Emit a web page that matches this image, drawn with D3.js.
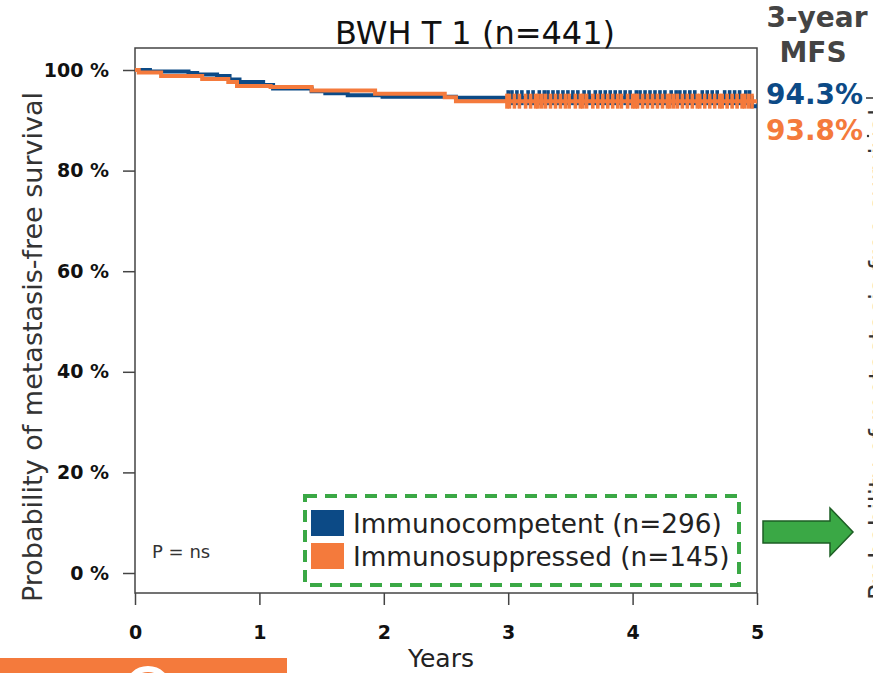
<!DOCTYPE html>
<html><head><meta charset="utf-8">
<script src="https://cdn.jsdelivr.net/npm/d3@7"></script>
<style>html,body{margin:0;padding:0;background:#fff;overflow:hidden}svg{display:block}</style>
</head><body>
<svg id="c" width="873" height="673"></svg>
<script>
// ---- data ----
const seriesNames = ["Immunocompetent (n=296)", "Immunosuppressed (n=145)"];
const mfs3 = ["94.3%", "93.8%"];
// step times (years) and survival after each step
const blueTimes = [0, 0.12, 0.43, 0.50, 0.66, 0.76, 0.84, 1.03, 1.11, 1.42, 1.53, 1.71, 1.99, 2.58, 4.96];
const blueSurv  = [1.0, 0.997, 0.994, 0.991, 0.988, 0.981, 0.976, 0.970, 0.963, 0.958, 0.954, 0.950, 0.947, 0.945, 0.928];
const orangeTimes = [0, 0.03, 0.21, 0.54, 0.75, 0.82, 1.09, 1.42, 1.93, 2.49, 2.58];
const orangeSurv  = [1.0, 0.995, 0.988, 0.982, 0.976, 0.968, 0.966, 0.959, 0.953, 0.946, 0.938];
const blueCensor = [3.00, 3.03, 3.07, 3.11, 3.16, 3.20, 3.25, 3.29, 3.32, 3.36, 3.40, 3.44, 3.48, 3.52, 3.56, 3.61, 3.65, 3.70, 3.74, 3.78, 3.82, 3.86, 3.90, 3.94, 3.98, 4.03, 4.06, 4.10, 4.14, 4.18, 4.22, 4.26, 4.31, 4.35, 4.38, 4.42, 4.46, 4.50, 4.56, 4.60, 4.64, 4.68, 4.74, 4.78, 4.82, 4.86, 4.91, 4.94];
const orangeCensor = [2.99, 3.01, 3.05, 3.09, 3.14, 3.18, 3.22, 3.24, 3.27, 3.30, 3.34, 3.38, 3.42, 3.46, 3.49, 3.54, 3.58, 3.60, 3.63, 3.68, 3.72, 3.76, 3.80, 3.84, 3.88, 3.91, 3.96, 4.00, 4.02, 4.04, 4.08, 4.12, 4.16, 4.20, 4.24, 4.28, 4.30, 4.33, 4.36, 4.40, 4.44, 4.48, 4.52, 4.54, 4.58, 4.62, 4.66, 4.70, 4.72, 4.76, 4.80, 4.84, 4.88, 4.90, 4.93, 4.96];
const xTicks = [0, 1, 2, 3, 4, 5];
const yTicks = [0, 0.2, 0.4, 0.6, 0.8, 1.0];

const BLUE = "#0c4a86", ORANGE = "#f47a3c", GREEN = "#3aa845";
const svg = d3.select("#c");
const x = d3.scaleLinear().domain([0, 5]).range([135, 757]);
const y = d3.scaleLinear().domain([0, 1]).range([573, 70]);
const F = "DejaVu Sans, sans-serif";

// frame
svg.append("rect").attr("x", 135).attr("y", 48).attr("width", 622).attr("height", 545)
  .attr("fill", "none").attr("stroke", "#444").attr("stroke-width", 1.5);

// axes
const ya = svg.append("g").attr("transform", "translate(135,0)")
  .call(d3.axisLeft(y).tickValues(yTicks).tickFormat(d => Math.round(d * 100) + " %").tickSize(12).tickPadding(14));
ya.select(".domain").remove();
ya.selectAll("line").attr("stroke", "#444").attr("stroke-width", 1.5);
ya.selectAll("text").attr("font-family", F).attr("font-weight", "bold").attr("font-size", 19).attr("fill", "#111");

const xa = svg.append("g").attr("transform", "translate(0,593)")
  .call(d3.axisBottom(x).tickValues(xTicks).tickFormat(d3.format("d")).tickSize(12).tickPadding(21));
xa.select(".domain").remove();
xa.selectAll("line").attr("stroke", "#444").attr("stroke-width", 1.5);
xa.selectAll("text").attr("font-family", F).attr("font-weight", "bold").attr("font-size", 19).attr("fill", "#111");

// curves
function survAt(times, surv, t) {
  let s = surv[0];
  for (let i = 0; i < times.length; i++) if (times[i] <= t) s = surv[i];
  return s;
}
const line = d3.line().x(d => x(d[0])).y(d => y(d[1])).curve(d3.curveStepAfter);
function drawSeries(times, surv, censor, color) {
  const pts = times.map((t, i) => [t, surv[i]]);
  pts.push([5, surv[surv.length - 1]]);
  svg.append("path").datum(pts).attr("d", line).attr("fill", "none")
    .attr("stroke", color).attr("stroke-width", 4);
  svg.append("g").selectAll("line").data(censor).join("line")
    .attr("x1", d => x(d)).attr("x2", d => x(d))
    .attr("y1", d => y(survAt(times, surv, d)) - 7.5)
    .attr("y2", d => y(survAt(times, surv, d)) + 7.5)
    .attr("stroke", color).attr("stroke-width", 3.6);
}
drawSeries(blueTimes, blueSurv, blueCensor, BLUE);
drawSeries(orangeTimes, orangeSurv, orangeCensor, ORANGE);

// title & labels
svg.append("text").attr("x", 475).attr("y", 44).attr("text-anchor", "middle")
  .attr("font-family", F).attr("font-size", 32).attr("fill", "#111").text("BWH T 1 (n=441)");
svg.append("text").attr("transform", "translate(42,347) rotate(-90)").attr("text-anchor", "middle")
  .attr("font-family", F).attr("font-size", 27).attr("fill", "#333").text("Probability of metastasis-free survival");
svg.append("text").attr("x", 441).attr("y", 667).attr("text-anchor", "middle")
  .attr("font-family", F).attr("font-size", 25).attr("fill", "#222").text("Years");
svg.append("text").attr("x", 152).attr("y", 558)
  .attr("font-family", F).attr("font-size", 18).attr("fill", "#333").text("P = ns");

// legend
svg.append("rect").attr("x", 305).attr("y", 496).attr("width", 434).attr("height", 89)
  .attr("fill", "none").attr("stroke", GREEN).attr("stroke-width", 4).attr("stroke-dasharray", "12,8");
const leg = svg.append("g").selectAll("g").data(seriesNames).join("g")
  .attr("transform", (d, i) => `translate(311,${510 + i * 33})`);
leg.append("rect").attr("width", 33).attr("height", 26).attr("fill", (d, i) => i ? ORANGE : BLUE);
leg.append("text").attr("x", 42).attr("y", 23).attr("font-family", F).attr("font-size", 26.3)
  .attr("fill", "#222").text(d => d);

// right side 3-year MFS
svg.append("text").attr("x", 817).attr("y", 27).attr("text-anchor", "middle").attr("font-family", F)
  .attr("font-weight", "bold").attr("font-size", 28).attr("fill", "#444").text("3-year");
svg.append("text").attr("x", 813).attr("y", 62).attr("text-anchor", "middle").attr("font-family", F)
  .attr("font-weight", "bold").attr("font-size", 28).attr("fill", "#444").text("MFS");
svg.append("g").selectAll("text").data(mfs3).join("text")
  .attr("x", 766).attr("y", (d, i) => 104 + i * 36).attr("font-family", F).attr("font-weight", "bold")
  .attr("font-size", 28).attr("fill", (d, i) => i ? ORANGE : BLUE).text(d => d);
svg.append("line").attr("x1", 866).attr("x2", 873).attr("y1", 98).attr("y2", 98).attr("stroke", "#333").attr("stroke-width", 1.5);
svg.append("circle").attr("cx", 868).attr("cy", 136).attr("r", 1.2).attr("fill", "#333");

// partially visible label of next chart (cut by the page edge, as in the reference)
svg.append("text").attr("transform", "translate(888,600) rotate(-90)")
  .attr("font-family", F).attr("font-size", 26).attr("fill", "#333").text("Probability of metastasis-free survival");

// green arrow
svg.append("path").attr("d", "M763,521 L830,521 L830,508 L853,532 L830,556 L830,543 L763,543 Z")
  .attr("fill", GREEN).attr("stroke", "#1d5e24").attr("stroke-width", 1.5);

// bottom-left orange banner with the top of a white glyph peeking in
svg.append("rect").attr("x", 0).attr("y", 658).attr("width", 287).attr("height", 20).attr("fill", ORANGE);
svg.append("ellipse").attr("cx", 148).attr("cy", 688).attr("rx", 20).attr("ry", 19)
  .attr("fill", "none").attr("stroke", "#fff").attr("stroke-width", 6);
</script>
</body></html>
